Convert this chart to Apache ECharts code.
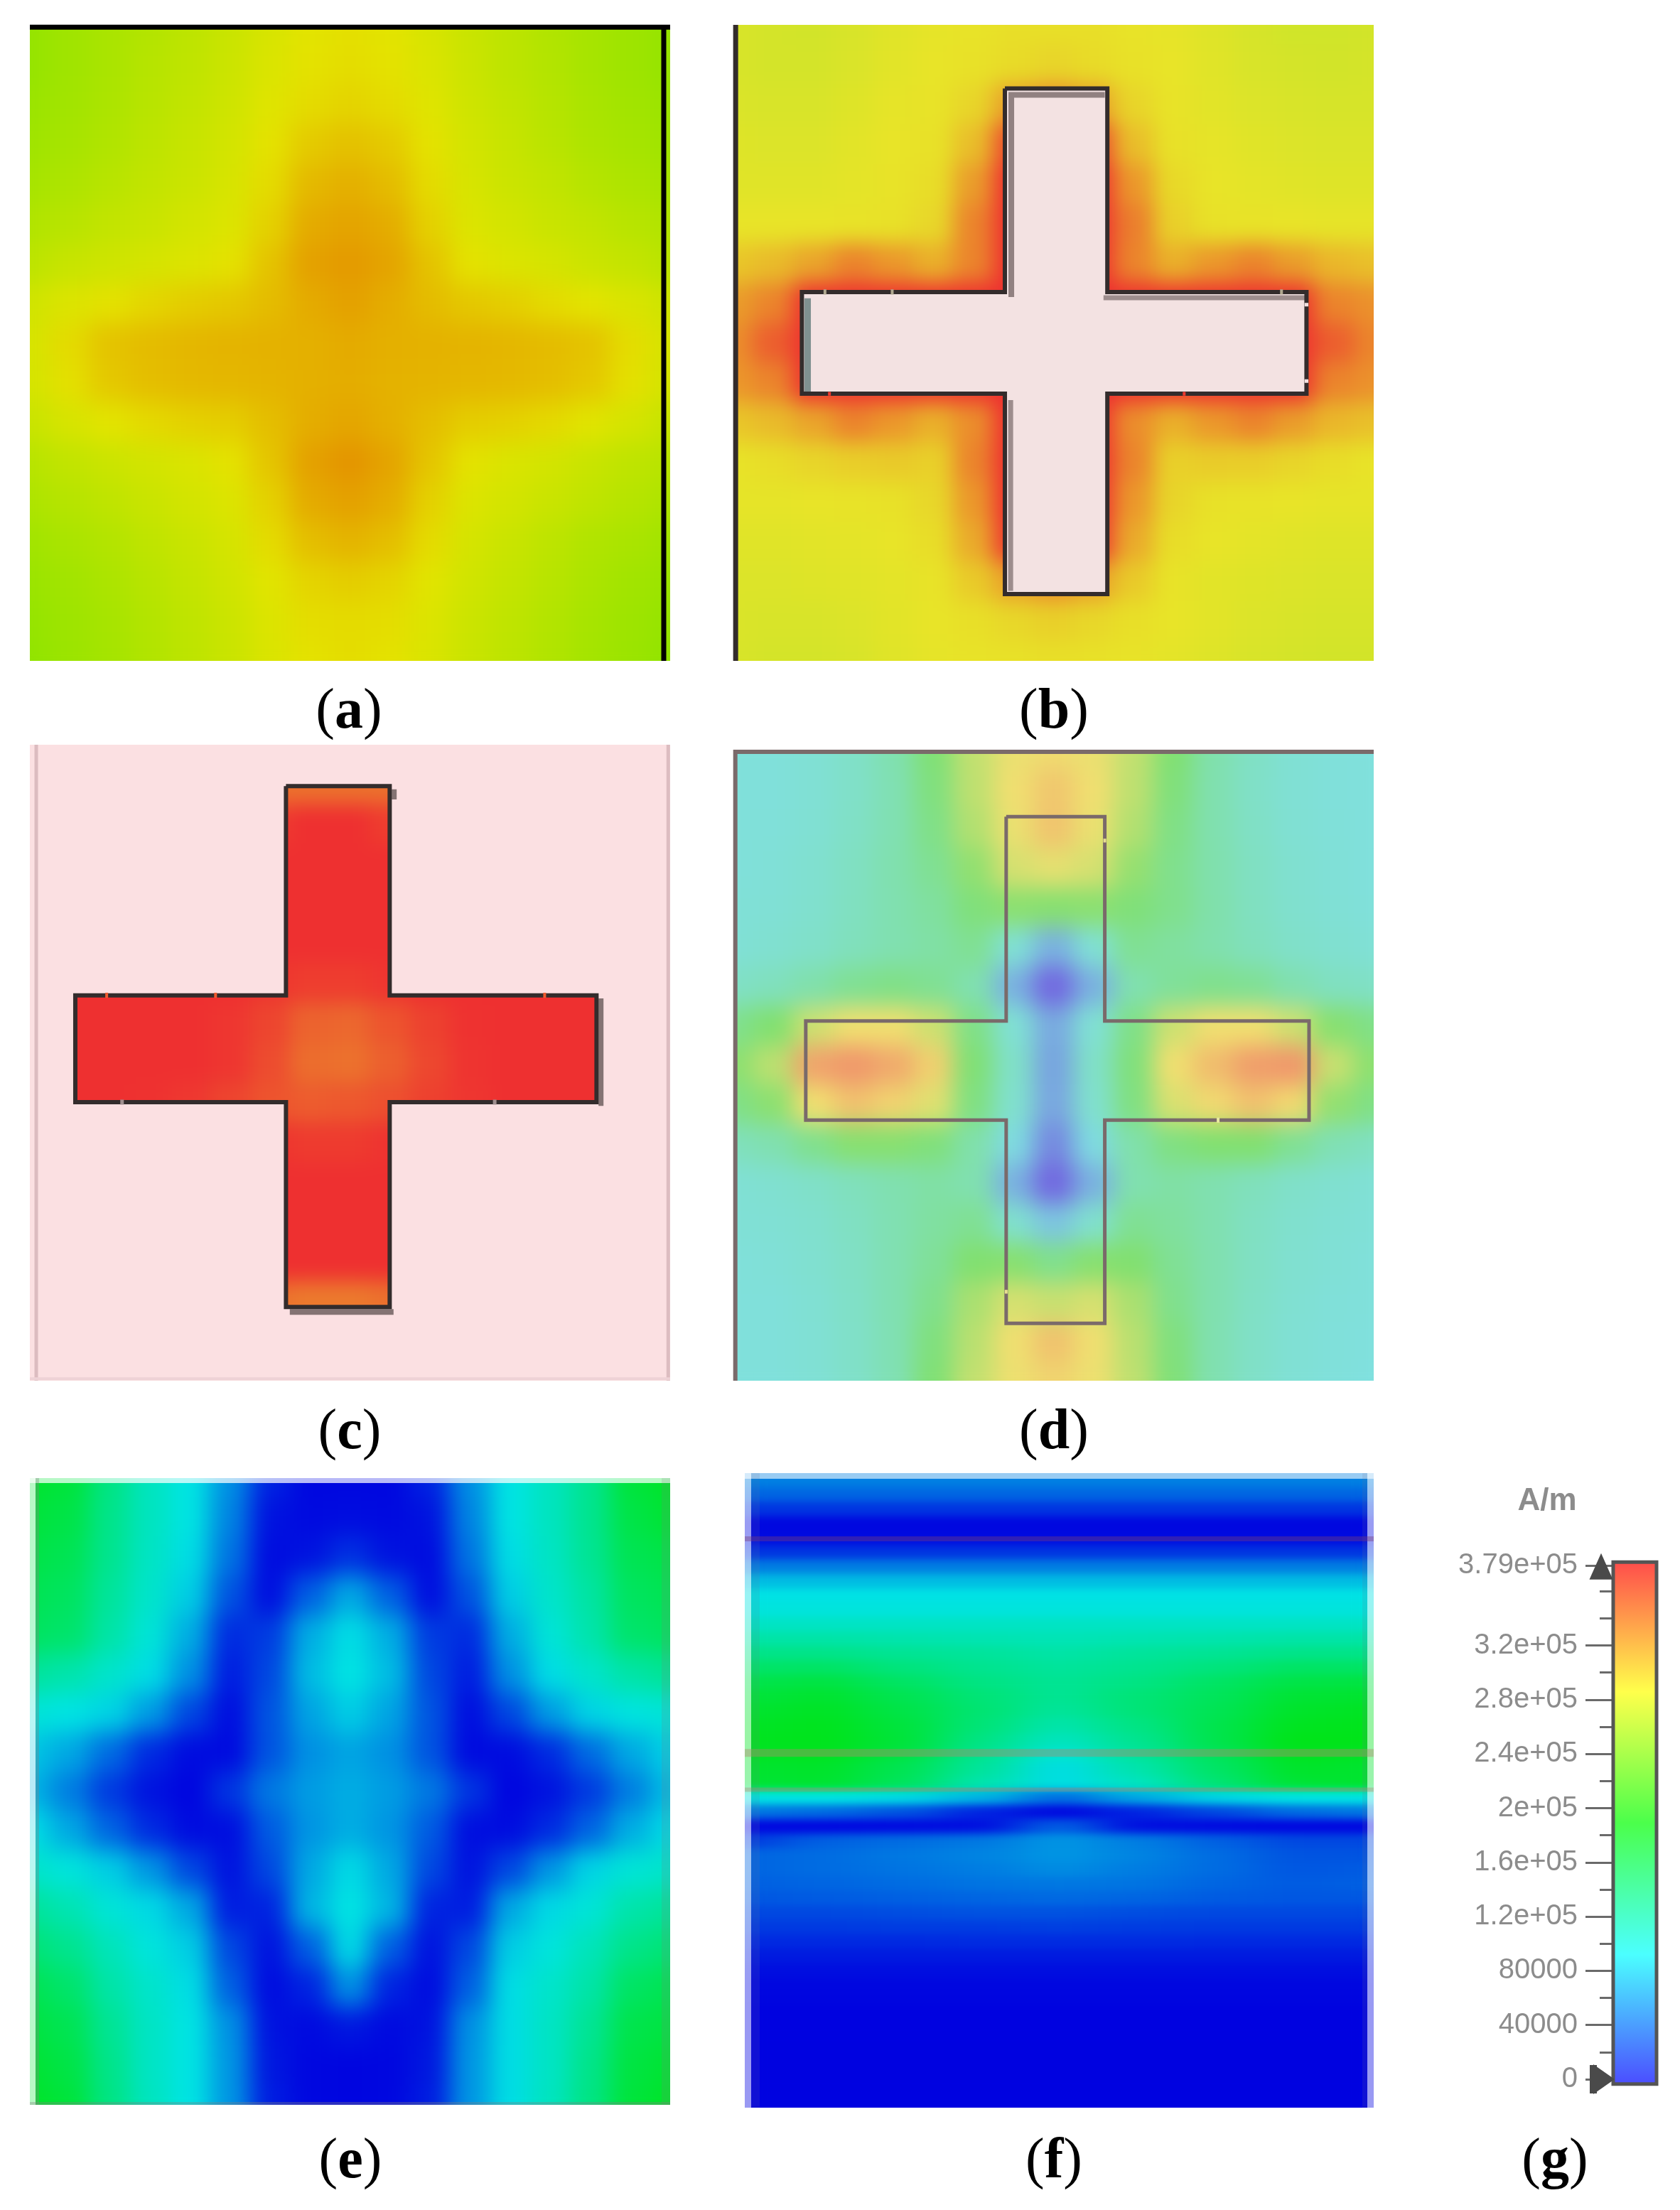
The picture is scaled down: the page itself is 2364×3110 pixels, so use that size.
<!DOCTYPE html>
<html><head><meta charset="utf-8">
<script src="https://cdn.jsdelivr.net/npm/echarts@6/dist/echarts.min.js"></script>
<style>
html,body{margin:0;padding:0;background:#fff;width:2364px;height:3110px;overflow:hidden}
.clip{position:absolute;overflow:hidden}
.heat{position:absolute}
#top{position:absolute;left:0;top:0;width:2364px;height:3110px;z-index:5}
</style></head><body>
<svg width="0" height="0" style="position:absolute"><defs id="defs"></defs></svg>
<div id="top"></div>
<script>
// Field magnitude in kA/m.
const panelA=[
[252,256,260,264,268,273,279,284,286,284,279,273,268,263,259,255,252],
[252,256,260,265,269,274,280,285,287,285,280,274,268,264,259,255,252],
[254,257,261,266,270,275,282,288,291,288,282,275,270,265,260,257,254],
[256,259,263,268,272,277,285,295,299,295,285,277,272,267,262,259,256],
[259,262,266,270,274,279,288,302,306,301,288,279,274,270,265,262,259],
[263,266,270,273,277,281,292,308,311,307,292,281,277,273,270,266,263],
[268,272,275,278,281,285,298,312,315,311,298,285,281,278,274,271,267],
[276,281,285,290,294,296,301,308,312,307,301,296,293,288,284,280,275],
[279,288,298,301,303,304,305,306,308,306,305,304,303,301,298,287,279],
[278,286,296,300,302,303,304,306,307,305,304,303,302,300,296,286,278],
[273,279,284,289,292,294,300,307,310,306,300,294,292,289,283,278,272],
[266,270,274,277,280,285,297,312,317,311,297,285,280,277,273,269,266],
[262,265,269,273,277,281,292,308,312,307,292,281,277,273,269,265,262],
[257,260,264,269,273,278,288,300,304,300,288,278,273,268,263,260,257],
[254,257,261,266,271,276,283,291,294,291,283,276,271,266,261,257,254],
[252,255,259,264,269,274,281,287,288,287,281,274,269,264,259,255,252],
[250,254,258,263,268,273,280,285,287,285,280,273,268,263,258,254,250]];
const panelB=[
[276,274,273,276,280,283,285,287,287,287,285,283,279,275,272,272,273],
[276,274,274,277,281,284,286,289,292,289,286,284,280,276,274,273,274],
[277,276,276,279,283,285,292,320,330,320,292,285,281,278,276,275,275],
[279,278,278,281,284,286,305,365,379,365,305,286,283,280,278,277,277],
[280,280,280,282,285,288,322,379,379,379,325,290,284,282,280,279,279],
[284,284,284,285,286,291,335,379,379,379,338,295,286,285,284,283,283],
[300,306,318,335,325,312,335,379,379,379,335,312,325,335,322,308,303],
[322,335,379,379,379,379,379,379,379,379,379,379,379,379,379,335,328],
[330,355,379,379,379,379,379,379,379,379,379,379,379,379,379,355,335],
[325,335,379,379,379,379,379,379,379,379,379,379,379,379,379,335,328],
[300,306,318,335,325,312,330,379,379,379,330,312,325,335,322,308,303],
[285,288,292,296,298,295,335,379,379,379,335,295,297,296,292,288,285],
[283,283,284,285,286,291,325,379,379,379,325,292,286,285,284,283,283],
[280,280,281,282,284,288,315,375,379,375,315,288,284,282,280,279,279],
[278,278,279,280,282,285,298,320,330,320,298,285,281,279,278,277,277],
[277,276,276,278,281,284,287,291,295,291,287,284,281,278,276,275,275],
[276,274,274,276,280,283,285,286,287,286,285,282,279,276,274,273,273]];
const panelC=[
[379,379,379,379,379,379,379,379,379,379,379,379,379,379,379,379,379],
[379,379,379,379,379,379,345,345,345,345,379,379,379,379,379,379,379],
[379,379,379,379,379,379,372,379,379,372,379,379,379,379,379,379,379],
[379,379,379,379,379,379,379,379,379,379,379,379,379,379,379,379,379],
[379,379,379,379,379,379,379,379,379,379,379,379,379,379,379,379,379],
[379,379,379,379,379,379,379,379,379,379,379,379,379,379,379,379,379],
[379,379,379,379,379,379,376,372,372,376,379,379,379,379,379,379,379],
[379,379,379,379,379,376,368,352,350,360,370,378,379,379,379,379,379],
[379,379,379,379,379,376,364,347,345,354,367,377,379,379,379,379,379],
[379,379,379,378,375,368,360,356,358,362,370,376,379,379,379,379,379],
[379,379,379,379,379,379,377,373,373,377,379,379,379,379,379,379,379],
[379,379,379,379,379,379,379,379,379,379,379,379,379,379,379,379,379],
[379,379,379,379,379,379,379,379,379,379,379,379,379,379,379,379,379],
[379,379,379,379,379,379,379,379,379,379,379,379,379,379,379,379,379],
[379,379,379,379,379,379,345,340,340,345,379,379,379,379,379,379,379],
[379,379,379,379,379,379,345,345,345,345,379,379,379,379,379,379,379],
[379,379,379,379,379,379,379,379,379,379,379,379,379,379,379,379,379]];
const panelD=[
[100,100,105,115,135,185,245,280,288,280,245,188,138,118,105,100,97],
[100,100,105,115,133,178,242,285,305,285,242,180,136,116,105,100,98],
[100,101,106,117,134,170,232,280,308,280,232,172,136,118,106,101,98],
[100,102,108,120,136,160,205,262,275,262,208,165,138,120,108,102,98],
[102,104,110,122,135,150,180,200,195,200,182,165,140,122,110,104,100],
[104,108,114,125,135,145,160,105,60,105,160,150,138,125,114,108,104],
[118,124,140,160,170,160,135,60,5,60,135,155,165,158,136,122,118],
[165,190,255,285,285,255,170,105,55,105,170,255,285,285,255,195,170],
[200,240,335,345,330,298,185,115,50,115,180,285,315,340,345,250,200],
[170,200,285,310,295,270,175,110,52,110,175,265,290,310,290,205,172],
[125,135,165,195,195,180,140,90,30,90,140,175,190,190,160,132,122],
[105,108,115,125,135,145,135,60,5,60,135,145,135,125,114,108,104],
[103,105,110,120,134,148,160,110,75,110,160,150,135,120,110,105,102],
[100,102,108,118,134,155,190,195,165,195,190,158,136,119,108,103,100],
[99,100,106,116,134,165,225,262,250,262,225,165,136,118,107,101,99],
[99,100,105,115,133,178,238,285,310,285,238,178,135,116,105,100,97],
[98,99,104,114,132,185,245,282,295,282,242,182,135,115,104,99,96]];
const panelE=[
[170,165,135,110,95,60,15,3,3,3,15,60,95,110,130,165,172],
[165,160,132,110,95,55,8,4,5,4,8,55,95,110,130,160,168],
[160,155,130,108,92,48,5,8,20,8,5,48,92,108,128,155,160],
[155,150,125,105,85,35,6,40,70,40,6,35,85,105,122,150,155],
[150,145,120,100,72,18,25,72,92,72,25,18,72,100,118,145,150],
[125,118,105,92,60,12,30,78,95,78,30,12,60,92,105,120,128],
[100,95,88,65,30,6,35,68,85,68,35,6,30,65,88,97,100],
[82,70,45,18,5,4,35,60,68,60,35,4,5,18,45,70,86],
[75,52,24,8,2,22,50,65,72,65,50,22,2,8,24,52,78],
[92,70,42,18,5,6,38,62,72,62,38,6,5,18,42,72,90],
[105,98,85,62,30,8,30,70,90,70,30,8,30,62,88,100,105],
[125,115,100,90,70,12,15,75,95,75,15,12,70,90,100,118,125],
[140,130,112,98,85,30,8,40,90,40,8,30,85,98,112,132,140],
[155,145,120,105,92,40,5,15,60,15,5,40,92,105,120,148,155],
[162,155,128,108,95,60,8,4,10,4,8,60,92,108,128,158,162],
[168,160,132,108,95,62,10,3,2,3,10,62,92,108,132,162,168],
[172,165,135,110,95,62,12,3,2,3,12,62,92,110,135,165,172]];
const panelF=[
[53,53,53,53,53,53,53,53,53],
[42,42,42,42,42,42,42,42,42],
[22,22,22,22,22,22,22,22,22],
[3,3,3,3,3,3,3,3,3],
[4,4,4,4,4,4,4,4,4],
[22,22,22,22,22,22,22,22,22],
[52,52,52,52,52,52,52,52,52],
[78,78,78,78,78,78,78,78,78],
[94,94,94,94,94,94,94,94,94],
[98,98,98,98,98,98,98,98,98],
[108,108,108,108,108,108,108,108,108],
[120,120,118,116,114,116,118,120,120],
[133,133,128,125,120,125,128,133,133],
[146,148,138,130,125,130,138,148,148],
[158,162,148,135,128,135,148,160,162],
[165,170,156,140,128,140,152,168,170],
[170,174,160,142,125,140,155,172,175],
[174,177,164,140,118,135,158,176,178],
[176,178,166,135,110,130,158,179,179],
[174,176,162,130,100,125,152,176,174],
[170,172,156,125,92,118,148,172,170],
[168,170,152,118,92,110,142,168,170],
[95,95,90,75,45,70,88,95,95],
[50,45,35,15,3,15,30,45,50],
[3,3,4,6,40,6,4,3,3],
[25,40,45,50,62,52,40,30,30],
[42,45,50,55,62,55,45,35,35],
[42,45,48,52,58,52,45,36,38],
[40,42,45,48,50,48,42,38,40],
[36,38,40,42,44,42,38,36,36],
[30,30,32,34,34,32,30,30,30],
[24,24,25,25,26,25,24,24,24],
[17,17,17,18,18,18,17,17,17],
[11,11,11,11,11,11,11,11,11],
[6,6,6,6,6,6,6,6,6],
[3,3,3,3,3,3,3,3,3],
[2,2,2,2,2,2,2,2,2],
[1,1,1,1,1,1,1,1,1],
[1,1,1,1,1,1,1,1,1],
[1,1,1,1,1,1,1,1,1],
[1,1,1,1,1,1,1,1,1],
[1,1,1,1,1,1,1,1,1],
[1,1,1,1,1,1,1,1,1],
[1,1,1,1,1,1,1,1,1]];
const panelNames=['a','b','c','d','e','f'];
const legendTitle='A/m';
const legendValues=[0,40000,80000,120000,160000,200000,240000,280000,320000,379000];
const legendLabels=['0','40000','80000','1.2e+05','1.6e+05','2e+05','2.4e+05','2.8e+05','3.2e+05','3.79e+05'];
const legendMax=379000;
const crossB=[42.4,58.4,10,89.5,10.7,89.5,42,58];
const crossC=[40,56.2,6.5,88.4,7.1,88.5,39.4,56.2];
const crossD=[42.6,58,10.6,90.9,11.3,89.9,43,58.7];

const deep=['#0000e0','#00e4e4','#00e400','#e4e400','#e40000'];
const warm=['#3030e8','#30e8e8','#30e830','#e8e428','#ee3030'];
const pale=['#7060e0','#80e0e0','#80e070','#f0e070','#f07068'];
const barColors=['#4b4bff','#4bffff','#4bff4b','#ffff4b','#ff4b4b'];
const panels=[
 {rect:[42,35,901,895],grid:panelA,colors:deep,blur:'17',padY:.5},
 {rect:[1032,35,901,895],grid:panelB,colors:warm,blur:'15',padY:.5},
 {rect:[42,1048,901,895],grid:panelC,colors:warm,blur:'14',padY:.5},
 {rect:[1032,1055,901,888],grid:panelD,colors:pale,blur:'16',padY:.5},
 {rect:[42,2080,901,882],grid:panelE,colors:deep,blur:'17',padY:.5},
 {rect:[1048,2073,885,893],grid:panelF,colors:deep,blur:'36 6',padY:0}
];

// Soft shading of the coarse cells: a display filter, the cell values stay as read.
const NS='http://www.w3.org/2000/svg', defs=document.getElementById('defs');
panels.forEach((p,i)=>{
  const f=document.createElementNS(NS,'filter');
  f.setAttribute('id','soft'+i);f.setAttribute('color-interpolation-filters','sRGB');
  f.setAttribute('x','-10%');f.setAttribute('y','-10%');f.setAttribute('width','120%');f.setAttribute('height','120%');
  f.innerHTML='<feGaussianBlur in="SourceGraphic" stdDeviation="'+p.blur+'" result="b"/><feMerge><feMergeNode in="SourceGraphic"/><feMergeNode in="b"/></feMerge>';
  defs.appendChild(f);
});
panels.forEach((p,i)=>{
  const [x,y,w,h]=p.rect, rows=p.grid.length, cols=p.grid[0].length;
  const cw=w/(cols-1), ch=p.padY? h/(rows-1): h/rows;
  const clip=document.createElement('div');clip.className='clip';
  clip.style.cssText='left:'+x+'px;top:'+y+'px;width:'+w+'px;height:'+h+'px;background:'+p.colors[2];
  const d=document.createElement('div');d.className='heat';
  const W=Math.round(w+cw), H=Math.round(h+2*p.padY*ch);
  d.style.cssText='left:'+(-cw/2)+'px;top:'+(-p.padY*ch)+'px;width:'+W+'px;height:'+H+'px;filter:url(#soft'+i+')';
  clip.appendChild(d);document.body.appendChild(clip);
  const data=[];
  p.grid.forEach((r,j)=>r.forEach((v,k)=>data.push([k,j,v])));
  echarts.init(d).setOption({
    animation:false,
    grid:{left:0,right:0,top:0,bottom:0},
    xAxis:{type:'category',show:false,data:p.grid[0].map((_,k)=>k)},
    yAxis:{type:'category',show:false,inverse:true,data:p.grid.map((_,k)=>k)},
    visualMap:{show:false,min:0,max:379,dimension:2,inRange:{color:p.colors}},
    series:[{type:'heatmap',data:data,progressive:0,silent:true,emphasis:{disabled:true}}]
  });
});

// Overlay: outlines, caption text, colour scale.
const grids=[],xAxes=[],yAxes=[],series=[];
panels.forEach((p,i)=>{
  grids.push({left:p.rect[0],top:p.rect[1],width:p.rect[2],height:p.rect[3]});
  xAxes.push({type:'value',show:false,min:0,max:100,gridIndex:i});
  yAxes.push({type:'value',show:false,min:0,max:100,inverse:true,gridIndex:i});
});
function line(i,pts,color,width,z){
  series.push({type:'line',xAxisIndex:i,yAxisIndex:i,data:pts,showSymbol:false,symbol:'none',clip:false,silent:true,z:z||3,
    connectNulls:false,lineStyle:{color:color,width:width,cap:'butt',join:'miter'}});
}
function crossPts(c){const [a,b,t,u,l,r,h0,h1]=c;
  return [[a,t],[b,t],[b,h0],[r,h0],[r,h1],[b,h1],[b,u],[a,u],[a,h1],[l,h1],[l,h0],[a,h0],[a,t]];}
function rects(i,list,color,z){
  series.push({type:'custom',xAxisIndex:i,yAxisIndex:i,clip:false,silent:true,z:z||2,data:list,
    encode:{x:[0,2],y:[1,3]},
    renderItem:(prm,api)=>{
      const q=list[prm.dataIndex],s=api.coord([q[0],q[1]]),e=api.coord([q[2],q[3]]);
      const x=Math.round(s[0]),y=Math.round(s[1]);
      return {type:'rect',shape:{x:x,y:y,width:Math.round(e[0])-x,height:Math.round(e[1])-y},style:{fill:color}};
    }});
}
function poly(i,pts,fill,z){
  series.push({type:'custom',xAxisIndex:i,yAxisIndex:i,clip:false,silent:true,z:z||2,data:pts,encode:{x:0,y:1},
    renderItem:(prm,api)=>prm.dataIndex===0?{type:'polygon',shape:{points:pts.map(q=>api.coord(q))},style:{fill:fill}}:null});
}
// (a)
line(0,[[0,.35],[100,.35]],'#000',7);
line(0,[[99,0],[99,100]],'#000',7);
// (b)
line(1,[[.35,0],[.35,100]],'#332c2c',7);
poly(1,crossPts(crossB),'#f3e2e2');
line(1,[[58,11],[43.4,11],[43.4,42.8]],'rgba(120,105,105,.8)',8);
line(1,[[57.8,42.9],[89.3,42.9]],'rgba(120,105,105,.7)',7);
line(1,[[11.6,43],[11.6,58]],'#7f9090',9);
line(1,[[43.3,59],[43.3,89]],'rgba(120,105,105,.7)',7);
line(1,crossPts(crossB),'#332c2c',6,4);
line(1,[[14.3,41.6],[14.3,42.4],'-',[24.8,41.6],[24.8,42.4],'-',[85.6,41.6],[85.6,42.4]],'#b0a890',4,5);
line(1,[[89.2,44],[89.8,44],'-',[89.2,56],[89.8,56]],'#f3e2e2',5,5);
line(1,[[15,57.7],[15,58.3],'-',[70.4,57.7],[70.4,58.3]],'#ee3a30',4,5);
// (c)
const [ca,cb,ct,cu,cl,cr,c0,c1]=crossC;
rects(2,[[0,0,ca,c0],[cb,0,100,c0],[0,c1,ca,100],[cb,c1,100,100],[ca,0,cb,ct],[ca,cu,cb,100],[0,c0,cl,c1],[cr,c0,100,c1]],'#fbe0e2');
line(2,[[1,0],[1,100]],'#dcbcc0',5);
line(2,[[99.7,0],[99.7,100]],'#dcbcc0',5);
line(2,[[0,99.7],[100,99.7]],'#eed2d6',4);
line(2,[[40.6,89.2],[56.8,89.2]],'rgba(110,95,95,.85)',8);
line(2,[[89.2,39.9],[89.2,56.8]],'rgba(110,95,95,.85)',7);
line(2,[[56.9,7],[56.9,8.6]],'rgba(110,95,95,.85)',7);
line(2,crossPts(crossC),'#332c2c',6,4);
line(2,[[12,39],[12,39.8],'-',[29,39],[29,39.8],'-',[80.4,39],[80.4,39.8]],'#ee5a30',4,5);
line(2,[[14.4,55.8],[14.4,56.6],'-',[72.6,55.8],[72.6,56.6]],'#a09090',5,5);
// (d)
line(3,[[.3,100],[.3,.35],[100,.35]],'#7a6a6a',6);
line(3,crossPts(crossD),'#7a6a6a',5,4);
line(3,[[58,14.1],[58,14.7]],'#e8e090',4,5);
line(3,[[42.6,85.6],[42.6,86.2]],'#e8e090',4,5);
line(3,[[75.7,58.3],[75.7,59.1]],'#e8e8a0',4,5);
// (e)
rects(4,[[0,0,.9,100],[0,0,100,.8]],'rgba(255,255,255,.72)');
rects(4,[[.9,0,1.4,100],[0,99.5,100,100]],'rgba(130,130,130,.35)');
rects(4,[[98.7,0,100,100]],'rgba(130,130,130,.18)');
// (f)
rects(5,[[0,0,1,100],[99,0,100,100],[0,0,100,.9]],'rgba(255,255,255,.6)');
rects(5,[[1,0,2.4,100],[98.2,0,99,100]],'rgba(110,110,140,.14)');
line(5,[[0,10.35],[100,10.35]],'rgba(120,60,120,.4)',7);
line(5,[[0,44.1],[100,44.1]],'rgba(175,135,110,.42)',11);
line(5,[[0,49.9],[100,49.9]],'rgba(175,135,110,.38)',6);

// colour scale
const L=panels.length;
grids.push({left:2270,top:2203,width:61,height:723});
xAxes.push({type:'value',show:false,min:0,max:61,gridIndex:L});
const tickText={};legendValues.forEach((v,i)=>tickText[v]=legendLabels[i]);
yAxes.push({type:'value',gridIndex:L,min:0,max:legendMax,position:'left',
  axisLine:{show:false},splitLine:{show:false},
  axisTick:{show:true,length:39,customValues:legendValues,lineStyle:{color:'#6a6a6a',width:3}},
  axisLabel:{show:true,margin:50,customValues:legendValues,formatter:v=>tickText[v],color:'#8c8c8c',
    fontFamily:'Liberation Sans',fontSize:40}});
yAxes.push({type:'value',gridIndex:L,min:0,max:legendMax,interval:20000,position:'left',
  axisLine:{show:false},splitLine:{show:false},axisLabel:{show:false},
  axisTick:{show:true,length:19,lineStyle:{color:'#6a6a6a',width:3}}});
const barSpan=[[0,-3500],[61,381500]];
series.push({type:'custom',xAxisIndex:L,yAxisIndex:L,clip:false,silent:true,z:3,data:barSpan,encode:{x:0,y:1},
  renderItem:(prm,api)=>{
    if(prm.dataIndex!==0)return null;
    const a=api.coord(barSpan[0]),b=api.coord(barSpan[1]);
    return {type:'rect',shape:{x:a[0],y:b[1],width:b[0]-a[0],height:a[1]-b[1]},
      style:{stroke:'#555',lineWidth:5,
        fill:new echarts.graphic.LinearGradient(0,1,0,0,barColors.map((c,i)=>({offset:i/4,color:c})))}};
  }});
series.push({type:'scatter',xAxisIndex:L,yAxisIndex:L,clip:false,silent:true,z:4,symbol:'triangle',
  symbolSize:[33,37],data:[[-17,legendMax-700]],itemStyle:{color:'#4a4a4a',opacity:1}});
series.push({type:'scatter',xAxisIndex:L,yAxisIndex:L,clip:false,silent:true,z:4,symbol:'triangle',symbolRotate:-90,
  symbolSize:[42,30],data:[[-13,0]],itemStyle:{color:'#4a4a4a',opacity:1}});
series.push({type:'scatter',xAxisIndex:L,yAxisIndex:L,clip:false,silent:true,z:4,symbol:'rect',
  symbolSize:[10,40],data:[[-28,0]],itemStyle:{color:'#4a4a4a',opacity:1}});

const captions=[[491,1003],[1483,1003],[492,2017],[1483,2017],[493,3043],[1483,3043],[2188,3043]];
const graphic=captions.map((c,i)=>({type:'text',x:c[0],y:c[1],silent:true,style:{
  text:'{p|(}{b|'+(panelNames[i]||'g')+'}{p|)}',align:'center',verticalAlign:'middle',
  rich:{p:{fontFamily:'Liberation Serif',fontSize:80,fill:'#000'},b:{fontFamily:'Liberation Serif',fontWeight:'bold',fontSize:80,fill:'#000'}}}}));
graphic.push({type:'text',x:2177,y:2113,silent:true,style:{text:legendTitle,align:'center',verticalAlign:'middle',
  fontFamily:'Liberation Sans',fontWeight:'bold',fontSize:44,fill:'#8c8c8c'}});

echarts.init(document.getElementById('top')).setOption({
  animation:false,backgroundColor:'transparent',
  grid:grids,xAxis:xAxes,yAxis:yAxes,series:series,graphic:graphic
});
</script></body></html>
